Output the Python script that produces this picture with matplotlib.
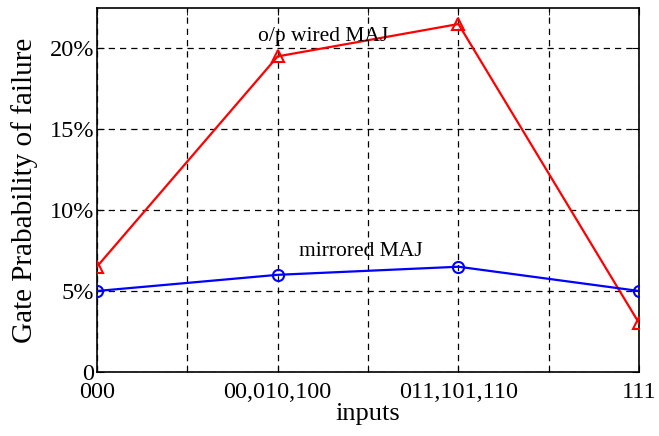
import matplotlib.pyplot as plt
import numpy as np

plt.rcParams['font.family'] = ['Liberation Serif', 'DejaVu Serif']

# input combinations on the x axis
inputs = ['000', '00,010,100', '011,101,110', '111']
# probability of failure (fraction)
wired_maj = [0.065, 0.195, 0.215, 0.030]
mirrored_maj = [0.050, 0.060, 0.065, 0.050]
yticks = [0, 0.05, 0.10, 0.15, 0.20]
ytick_labels = ['0', '5%', '10%', '15%', '20%']

fig = plt.figure(figsize=(6.59, 4.36), dpi=100)
ax = fig.add_axes([0.147, 0.147, 0.823, 0.835])

x = np.arange(len(inputs))
ax.plot(x, wired_maj, color='red', lw=1.6, marker='^', ms=9,
        mfc='none', mec='red', mew=1.5, zorder=3)
ax.plot(x, mirrored_maj, color='blue', lw=1.6, marker='o', ms=8,
        mfc='none', mec='blue', mew=1.5, zorder=3)

ax.text(1.25, 0.2075, 'o/p wired MAJ', ha='center', va='center', fontsize=15.5)
ax.text(1.46, 0.0745, 'mirrored MAJ', ha='center', va='center', fontsize=15.5)

ax.set_xlim(0, 3)
ax.set_ylim(0, 0.225)
ax.set_xticks(x)
ax.set_xticklabels(inputs)
ax.set_xticks(np.arange(0.5, 3, 1.0), minor=True)
ax.set_yticks(yticks)
ax.set_yticklabels(ytick_labels)

ax.grid(True, which='both', axis='x', color='black', ls=(0, (5, 4)), lw=0.9)
ax.grid(True, which='major', axis='y', color='black', ls=(0, (5, 4)), lw=0.9)

ax.tick_params(which='both', direction='in', top=True, right=True,
               labelsize=17.5, pad=2)
ax.tick_params(axis='x', which='major', pad=7)
ax.tick_params(which='major', length=5)
ax.tick_params(which='minor', length=5)
for s in ax.spines.values():
    s.set_linewidth(1.2)

ax.set_xlabel('inputs', fontsize=19, labelpad=0)
ax.set_ylabel('Gate Prabability of failure', fontsize=21, labelpad=8)

fig.savefig('out.png', dpi=100)
